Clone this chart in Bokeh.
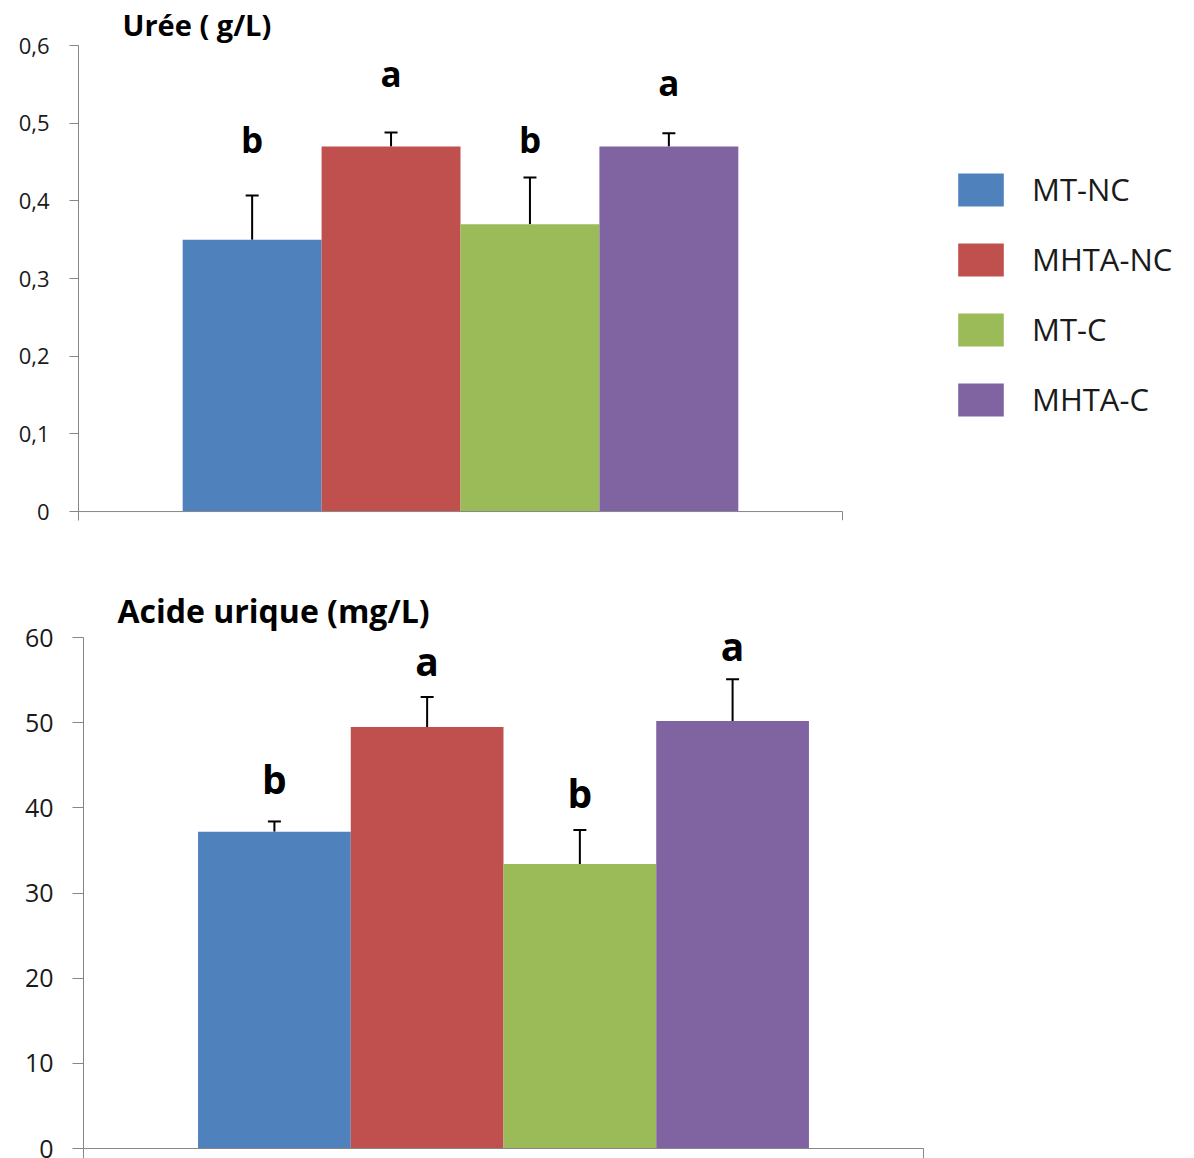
from bokeh.plotting import figure
from bokeh.models import (ColumnDataSource, Whisker, TeeHead, FixedTicker, Legend,
                          LegendItem, Range1d, CustomJSTickFormatter)
from bokeh.embed import file_html
from bokeh.resources import INLINE
from bokeh.core.properties import value

# Groups and their bar colours
groups = ["MT-NC", "MHTA-NC", "MT-C", "MHTA-C"]
colors = ["#4F81BD", "#C0504D", "#9BBB59", "#8064A2"]

# Urée (g/L): means, error bars, significance letters and where they sit
uree_mean = [0.35, 0.47, 0.37, 0.47]
uree_err = [0.057, 0.018, 0.060, 0.017]
uree_letters = ["b", "a", "b", "a"]
uree_letter_y = [0.456, 0.541, 0.456, 0.529]
uree_ticks = [0, 0.1, 0.2, 0.3, 0.4, 0.5, 0.6]
uree_tick_labels = ["0", "0,1", "0,2", "0,3", "0,4", "0,5", "0,6"]

# Acide urique (mg/L)
acide_mean = [37.2, 49.5, 33.4, 50.2]
acide_err = [1.2, 3.5, 4.0, 4.9]
acide_letters = ["b", "a", "b", "a"]
acide_letter_y = [41.8, 55.7, 40.2, 57.4]
acide_ticks = [0, 10, 20, 30, 40, 50, 60]
acide_tick_labels = ["0", "10", "20", "30", "40", "50", "60"]

FONT = "Open Sans"
AXIS_GREY = "#868686"
GAP = 1.5  # gap width between the category edge and the bar cluster, in bar widths
PAGE_W = 1194


def bar_positions(n):
    w = 1.0 / (n + GAP)
    xs = [0.5 + (i - (n - 1) / 2.0) * w for i in range(n)]
    return xs, w


def style_yaxis(p, ticks, tick_labels, tick_size, tick_len, tick_standoff):
    ya = p.yaxis[0]
    ya.ticker = FixedTicker(ticks=ticks)
    ya.formatter = CustomJSTickFormatter(args=dict(tvals=ticks, tlabels=tick_labels), code="""
        const i = tvals.findIndex(t => Math.abs(t - tick) < 1e-9);
        return i >= 0 ? tlabels[i] : '';
    """)
    ya.axis_line_color = AXIS_GREY
    ya.major_tick_line_color = AXIS_GREY
    ya.major_tick_out = tick_len
    ya.major_tick_in = 0
    ya.minor_tick_line_color = None
    ya.major_label_text_font = FONT
    ya.major_label_text_font_size = tick_size
    ya.major_label_text_color = "#1a1a1a"
    ya.major_label_standoff = tick_standoff


def style_title(p, title, size, offset, standoff):
    p.title.text = title
    p.title.text_font = FONT
    p.title.text_font_style = "bold"
    p.title.text_font_size = size
    p.title.text_color = "black"
    p.title.align = "left"
    p.title.offset = offset
    p.title.standoff = standoff


def add_bars(p, means, errs, letters, letter_y, letter_size, letter_offset):
    xs, w = bar_positions(len(means))
    src = ColumnDataSource(dict(
        x=xs, mean=means, upper=[m + e for m, e in zip(means, errs)],
        color=colors, group=groups, letter=letters, ly=letter_y,
    ))
    bars = p.vbar(x="x", top="mean", bottom=0, width=w, source=src,
                  fill_color="color", line_color=None)
    p.add_layout(Whisker(source=src, base="x", lower="mean", upper="upper",
                         line_color="black", line_width=2,
                         upper_head=TeeHead(size=13, line_color="black", line_width=2),
                         lower_head=None))
    p.text(x="x", y="ly", text="letter", source=src, y_offset=letter_offset,
           text_font=value(FONT), text_font_style="bold", text_font_size=letter_size,
           text_align="center", text_baseline="alphabetic", text_color="black")
    return bars


def base_figure(width, height, x_end, y_start, y_end, left, right, top, bottom):
    p = figure(width=width, height=height, output_backend="svg", toolbar_location=None,
               x_range=Range1d(0, x_end), y_range=Range1d(y_start, y_end),
               min_border_left=left, min_border_right=right,
               min_border_top=top, min_border_bottom=bottom,
               background_fill_color="white", border_fill_color="white")
    p.outline_line_color = None
    p.xgrid.visible = False
    p.ygrid.visible = False
    return p


# ---------- Urée: the frame runs to the page edge so the legend fits inside it ----------
TOP_LEFT, TOP_AXIS_W, TOP_AXIS_H, TOP_TICK = 78, 764, 469, 9
top_x_end = (PAGE_W - TOP_LEFT) / TOP_AXIS_W
top_y_start = -TOP_TICK / TOP_AXIS_H * uree_ticks[-1]

top_fig = base_figure(PAGE_W, 560, top_x_end, top_y_start, uree_ticks[-1],
                      left=TOP_LEFT, right=0, top=42, bottom=40)
top_bars = add_bars(top_fig, uree_mean, uree_err, uree_letters, uree_letter_y,
                    letter_size="35px", letter_offset=-18)
style_yaxis(top_fig, uree_ticks, uree_tick_labels, "22px", TOP_TICK, 20)
style_title(top_fig, "Urée ( g/L)", "29px", 44, 4)

# category axis drawn only across the single category, with its end tick
top_fig.xaxis.visible = False
top_fig.segment(x0=[0, 1], y0=[0, 0], x1=[1, 1], y1=[0, top_y_start],
                line_color=AXIS_GREY, line_width=1)

legend = Legend(
    items=[LegendItem(label=g, renderers=[top_bars], index=i) for i, g in enumerate(groups)],
    location=(874, 100), orientation="vertical",
    glyph_width=57, glyph_height=41, label_standoff=23, spacing=28,
    padding=0, margin=0, border_line_color=None, background_fill_alpha=0,
    label_text_font=FONT, label_text_font_size="31px", label_text_color="#1a1a1a",
    label_text_baseline="alphabetic",
)
top_fig.add_layout(legend, "center")

# ---------- Acide urique ----------
bottom_fig = base_figure(PAGE_W, 598, 1, 0, acide_ticks[-1],
                         left=83, right=271, top=77, bottom=10)
add_bars(bottom_fig, acide_mean, acide_err, acide_letters, acide_letter_y,
         letter_size="39px", letter_offset=-14)
style_yaxis(bottom_fig, acide_ticks, acide_tick_labels, "25px", 11, 19)
style_title(bottom_fig, "Acide urique (mg/L)", "32px", 34, 12)

xa = bottom_fig.xaxis[0]
xa.ticker = FixedTicker(ticks=[0, 1])
xa.formatter = CustomJSTickFormatter(code="return '';")
xa.axis_line_color = AXIS_GREY
xa.major_tick_line_color = AXIS_GREY
xa.major_tick_out = 10
xa.major_tick_in = 0
xa.minor_tick_line_color = None
xa.major_label_text_font_size = "0px"
xa.major_label_standoff = 0

# Two independent roots, stacked on the page
with open("out.html", "w") as f:
    f.write(file_html([top_fig, bottom_fig], INLINE, title="Urée et acide urique"))
